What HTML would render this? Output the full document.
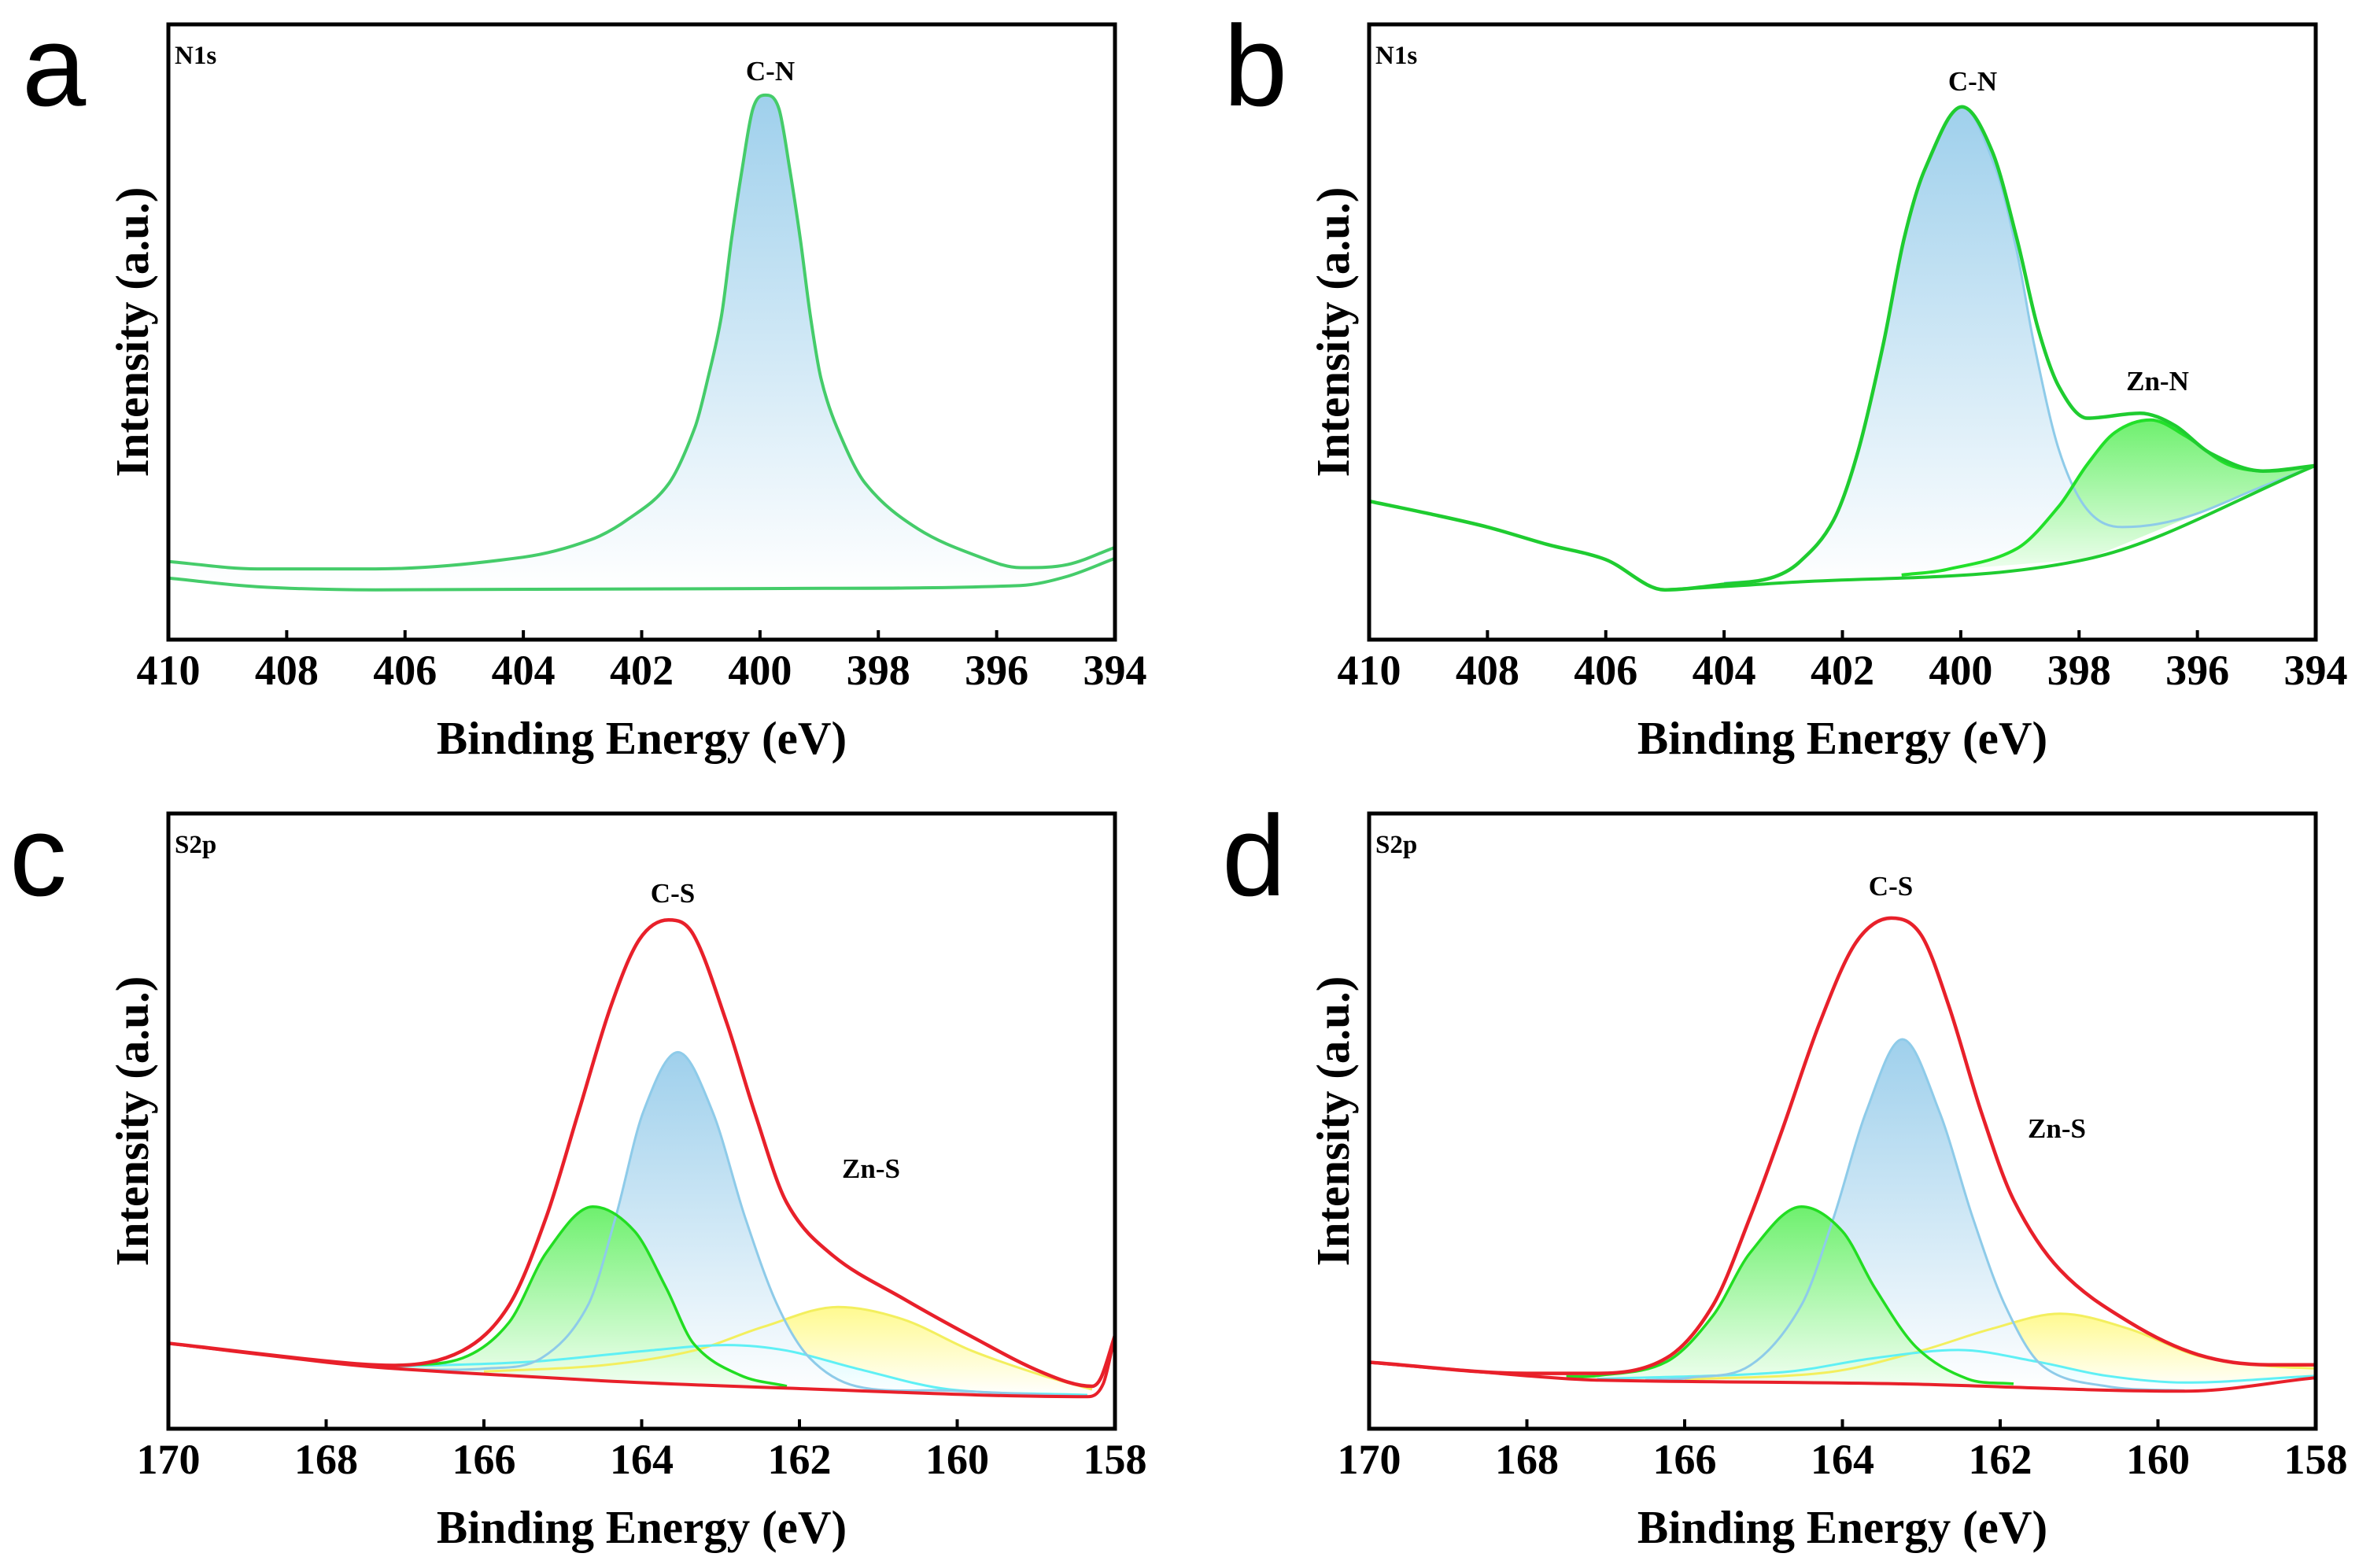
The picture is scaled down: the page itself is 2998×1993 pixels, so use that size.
<!DOCTYPE html>
<html><head><meta charset="utf-8"><style>
html,body{margin:0;padding:0;background:#fff;}
svg{display:block;}
text{font-family:"Liberation Serif",serif;font-weight:bold;fill:#000;}
.let{font-family:"Liberation Sans",sans-serif;font-weight:normal;}
</style></head><body>
<svg id="fig" width="2998" height="1993" viewBox="0 0 2998 1993" xmlns="http://www.w3.org/2000/svg">
<defs>
<linearGradient id="gBlue" x1="0" y1="0" x2="0" y2="1"><stop offset="0" stop-color="#9fd0ec"/><stop offset="1" stop-color="#ffffff"/></linearGradient>
<linearGradient id="gGreen" x1="0" y1="0" x2="0" y2="1"><stop offset="0" stop-color="#6ef06e"/><stop offset="1" stop-color="#f2fff2"/></linearGradient>
<linearGradient id="gYellow" x1="0" y1="0" x2="0" y2="1"><stop offset="0" stop-color="#fffa90"/><stop offset="1" stop-color="#ffffff"/></linearGradient>
<linearGradient id="gCyan" x1="0" y1="0" x2="0" y2="1"><stop offset="0" stop-color="#d8fbff"/><stop offset="1" stop-color="#ffffff"/></linearGradient>
</defs>
</svg>
<script>
// ---- data (binding energy eV, intensity 0-100 of frame height) ----
const aEnvX=[410,408.5,406.5,404,402.87,402.21,401.54,401.1,400.88,400.65,400.48,400.3,400.12,399.91,399.68,399.5,399.32,399.15,398.97,398.7,398.22,397.33,396.22,395.6,394.8,394];
const aEnvY=[12.7,11.5,11.5,13.4,16.2,19.7,25.4,34.5,42.5,52.7,65.2,76.6,86.3,88.5,86.3,76.6,65.2,52.7,42.5,34.5,25.4,18,13.2,11.7,12.2,15];
const aBaseX=[410,408.5,406.5,400,395.6,394.8,394];
const aBaseY=[10,8.6,8.1,8.3,8.8,10.3,13.2];

const bEnvX=[410,409,408,407,406,405,404,403.22,402.74,402.15,401.73,401.31,400.96,400.6,399.98,399.47,399.05,398.7,398.34,397.86,396.97,396.38,395.78,394.89,394];
const bEnvY=[22.5,20.5,18.3,15.5,13,8.1,9,10,12.5,19.4,30.8,48,65.1,76.6,86.6,79.4,65.1,50.8,41.1,36,36.8,34.8,30.3,27.4,28.3];
const bBaseX=[405,403.22,397.86,394];
const bBaseY=[8.1,9.1,13.1,28.3];
const bCNX=[404,403.22,402.74,402.15,401.73,401.31,400.96,400.6,399.98,399.41,399.05,398.76,398.34,397.86,397.27,396.67,396,395,394];
const bCNY=[9.2,10,12.5,19.4,30.8,48,65.1,76.6,86.6,76.6,63,48,30.8,21.1,18.3,18.8,20.5,24.5,28.3];
const bZnNX=[401,400.24,399.05,398.34,397.86,397.39,396.79,396.2,395.49,394.77,394];
const bZnNY=[10.5,11.4,14.8,21.7,28.5,33.7,35.7,33.1,28.5,27.4,28.3];

const cEnvX=[170,168,167.15,166.27,165.68,165.21,164.8,164.39,164.03,163.66,163.34,162.92,162.57,162.16,161.57,160.69,159.82,158.93,158.29,158.17,158];
const cEnvY=[13.9,11,10.3,12.7,20.1,34.4,51.5,68.7,79.5,82.7,80.2,65.9,51.5,36.7,28.1,21.2,15,9.2,6.9,8.5,15.2];
const cBaseX=[170,168,167.15,164.51,162.16,158.35,158.15,158];
const cBaseY=[13.9,10.8,9.8,7.8,6.6,5.2,7.3,15.2];
const cCSX=[167,165.97,165.27,164.68,164.33,163.98,163.54,163.1,162.69,162.28,161.87,161.28,160.1,158.35];
const cCSY=[9.6,9.8,11.5,20.1,34.4,51.5,61.2,51.5,34.4,20.1,11.5,6.9,6.2,5.2];
const cG2X=[167.5,167.15,166.27,165.68,165.21,164.62,164.09,163.69,163.34,162.75,162.16];
const cG2Y=[10.2,10.3,11.5,17.3,28.6,36.1,32.1,22.9,13.8,8.7,6.9];
const cZnSX=[166,164.51,163.34,162.45,161.51,160.69,159.82,158.93,158.29];
const cZnSY=[9.3,10.3,12.7,16.6,19.8,17.8,12.7,8.7,6.4];
const cCyX=[167.15,165.39,163.92,162.92,162.16,161.28,160.1,158.35];
const cCyY=[10.1,10.9,12.7,13.6,12.7,9.8,6.4,5.5];

const dEnvX=[170,168,167.11,166.23,165.64,165.17,164.76,164.29,163.83,163.38,163,162.65,162.24,161.83,161.24,160.36,159.48,158.6,158];
const dEnvY=[10.8,9,9,11.5,20.1,34.4,48.7,65.9,79,83,80.2,68.7,51.5,37.2,25.8,17.3,12,10.4,10.4];
const dBaseX=[170,168,167.11,163.3,159.66,158];
const dBaseY=[10.8,8.6,7.9,7.3,6.1,8.3];
const dCSX=[166.5,165.93,165.17,164.52,164.11,163.7,163.24,162.77,162.35,161.94,161.47,160.65,159.66];
const dCSY=[7.9,8.3,10.3,20.1,34.4,51.5,63.3,51.5,34.4,20.1,10.3,6.9,6.2];
const dG2X=[167.5,167.11,166.23,165.64,165.17,164.52,164,163.59,163.06,162.41,161.83];
const dG2Y=[8.5,8.6,10.9,18.4,28.6,36.1,32.1,22.9,13.2,8.1,7.3];
const dZnSX=[166,164.17,163,162.12,161.24,160.36,159.48,158.6,158];
const dZnSY=[8,9.2,12.7,16.2,18.7,16.2,11.8,10.2,9.8];
const dCyX=[167.11,164.76,163.59,162.53,161.53,160.65,159.66,158];
const dCyY=[8.1,9.2,11.5,12.8,10.9,8.6,7.5,8.6];

const nTicks=[410,408,406,404,402,400,398,396,394];
const sTicks=[170,168,166,164,162,160,158];

// ---- rendering ----
const NS='http://www.w3.org/2000/svg';
const svg=document.getElementById('fig');
function el(tag,attrs,parent){const e=document.createElementNS(NS,tag);for(const k in attrs)e.setAttribute(k,attrs[k]);(parent||svg).appendChild(e);return e;}
function txt(s,x,y,size,anchor,name,cls,parent){const t=el('text',{x:x,y:y,'font-size':size,'text-anchor':anchor||'start'},parent);if(cls)t.setAttribute('class',cls);t.textContent=s;


return t;}
function smooth(p){
  const n=p.length,m=[];
  for(let i=0;i<n;i++){
    if(i===0)m.push((p[1][1]-p[0][1])/(p[1][0]-p[0][0]));
    else if(i===n-1)m.push((p[n-1][1]-p[n-2][1])/(p[n-1][0]-p[n-2][0]));
    else{const d1=(p[i][1]-p[i-1][1])/(p[i][0]-p[i-1][0]),d2=(p[i+1][1]-p[i][1])/(p[i+1][0]-p[i][0]);
      m.push(d1*d2<=0?0:(p[i+1][1]-p[i-1][1])/(p[i+1][0]-p[i-1][0]));}
  }
  let d='M'+p[0][0].toFixed(1)+','+p[0][1].toFixed(1);
  for(let i=0;i<n-1;i++){const h=(p[i+1][0]-p[i][0])/3;
    d+=' C'+(p[i][0]+h).toFixed(1)+','+(p[i][1]+m[i]*h).toFixed(1)+' '+(p[i+1][0]-h).toFixed(1)+','+(p[i+1][1]-m[i+1]*h).toFixed(1)+' '+p[i+1][0].toFixed(1)+','+p[i+1][1].toFixed(1);}
  return d;}
function interp(xs,ys,x){for(let i=0;i<xs.length-1;i++){const a=xs[i],b=xs[i+1];if((x<=a&&x>=b)||(x>=a&&x<=b)){const t=(x-a)/(b-a||1);return ys[i]+t*(ys[i+1]-ys[i]);}}return x>xs[0]===(xs[0]>xs[xs.length-1])?ys[0]:ys[ys.length-1];}

function panel(cfg){
  const g=el('g',{});
  
  
  const L=cfg.L,R=cfg.R,T=cfg.T,B=cfg.B;
  const sx=v=>L+(cfg.x0-v)/(cfg.x0-cfg.x1)*(R-L);
  const sy=v=>B-v/100*(B-T);
  const pts=(xs,ys)=>xs.map((x,i)=>[sx(x),sy(ys[i])]);
  function area(xs,ys,fill,name){
    let d=smooth(pts(xs,ys));
    for(let i=xs.length-1;i>=0;i--){d+=' L'+sx(xs[i]).toFixed(1)+','+sy(interp(cfg.bx,cfg.by,xs[i])).toFixed(1);}
    const p=el('path',{d:d+'Z',fill:fill,stroke:'none'},g);
    
    
  }
  function line(xs,ys,col,w,name){
    const p=el('path',{d:smooth(pts(xs,ys)),fill:'none',stroke:col,'stroke-width':w,'stroke-linejoin':'round'},g);
    
    
  }
  cfg.areas.forEach(a=>area(a[0],a[1],a[2],a[3]+'-fill'));
  cfg.lines.forEach(a=>line(a[0],a[1],a[2],a[3],a[4]));
  const fr=el('rect',{x:L,y:T,width:R-L,height:B-T,fill:'none',stroke:'#000','stroke-width':5},g);
  
  
  cfg.ticks.forEach(v=>{
    const tk=el('line',{x1:sx(v),x2:sx(v),y1:B,y2:B-12,stroke:'#000','stroke-width':4},g);
    
    
    txt(String(v),sx(v),B+57,54,'middle','x-tick-label-'+v,null,g);
  });
  txt('Binding Energy (eV)',(L+R)/2,B+145,59,'middle','x-axis-title',null,g);
  const yt=txt('Intensity (a.u.)',0,0,59,'middle','y-axis-title',null,g);
  yt.setAttribute('transform','translate('+(L-26)+','+((T+B)/2)+') rotate(-90)');
  txt(cfg.letter,cfg.lx,cfg.ly,146,'start','panel-letter-'+cfg.letter,'let',g);
  txt(cfg.region,L+8,T+50,33,'start','region-label',null,g);
  cfg.labels.forEach(l=>txt(l[0],l[1],l[2],35,'middle','peak-label-'+l[0].toLowerCase(),null,g));
}
const envA='#45cc6a',envB='#1fcc30',red='#e8202a',blueL='#8ecbe9',grn='#22dd22',yel='#f3ef5e',cyan='#5ff0f5';
panel({name:'panel-a',L:214,R:1417,T:31,B:813,x0:410,x1:394,ticks:nTicks,letter:'a',lx:28,ly:134,region:'N1s',
  bx:aBaseX,by:aBaseY,areas:[[aEnvX,aEnvY,'url(#gBlue)','c-n-peak']],
  lines:[[aBaseX,aBaseY,envA,4,'baseline'],[aEnvX,aEnvY,envA,4,'envelope-c-n']],
  labels:[['C-N',979,102]]});
panel({name:'panel-b',L:1740,R:2943,T:31,B:813,x0:410,x1:394,ticks:nTicks,letter:'b',lx:1555,ly:134,region:'N1s',
  bx:bBaseX,by:bBaseY,areas:[[bCNX,bCNY,'url(#gBlue)','c-n-peak'],[bZnNX,bZnNY,'url(#gGreen)','zn-n-peak']],
  lines:[[bCNX,bCNY,blueL,3,'c-n-component'],[bZnNX,bZnNY,'#22e02a',4,'zn-n-component'],[bBaseX,bBaseY,envB,4,'baseline'],[bEnvX,bEnvY,envB,4.5,'envelope']],
  labels:[['C-N',2507,115],['Zn-N',2742,496]]});
panel({name:'panel-c',L:214,R:1417,T:1034,B:1816,x0:170,x1:158,ticks:sTicks,letter:'c',lx:12,ly:1138,region:'S2p',
  bx:cBaseX,by:cBaseY,areas:[[cZnSX,cZnSY,'url(#gYellow)','zn-s-peak'],[cCyX,cCyY,'url(#gCyan)','cyan-peak'],[cCSX,cCSY,'url(#gBlue)','c-s-peak'],[cG2X,cG2Y,'url(#gGreen)','c-s-2-peak']],
  lines:[[cZnSX,cZnSY,yel,3,'zn-s-component'],[cCyX,cCyY,cyan,3,'cyan-component'],[cCSX,cCSY,blueL,3,'c-s-component'],[cG2X,cG2Y,grn,3.5,'c-s-2-component'],[cBaseX,cBaseY,red,4,'baseline'],[cEnvX,cEnvY,red,4.5,'envelope']],
  labels:[['C-S',855,1147],['Zn-S',1107,1497]]});
panel({name:'panel-d',L:1740,R:2943,T:1034,B:1816,x0:170,x1:158,ticks:sTicks,letter:'d',lx:1553,ly:1138,region:'S2p',
  bx:dBaseX,by:dBaseY,areas:[[dZnSX,dZnSY,'url(#gYellow)','zn-s-peak'],[dCyX,dCyY,'url(#gCyan)','cyan-peak'],[dCSX,dCSY,'url(#gBlue)','c-s-peak'],[dG2X,dG2Y,'url(#gGreen)','c-s-2-peak']],
  lines:[[dZnSX,dZnSY,yel,3,'zn-s-component'],[dCyX,dCyY,cyan,3,'cyan-component'],[dCSX,dCSY,blueL,3,'c-s-component'],[dG2X,dG2Y,grn,3.5,'c-s-2-component'],[dBaseX,dBaseY,red,4,'baseline'],[dEnvX,dEnvY,red,4.5,'envelope']],
  labels:[['C-S',2403,1138],['Zn-S',2614,1446]]});
</script>
</body></html>
